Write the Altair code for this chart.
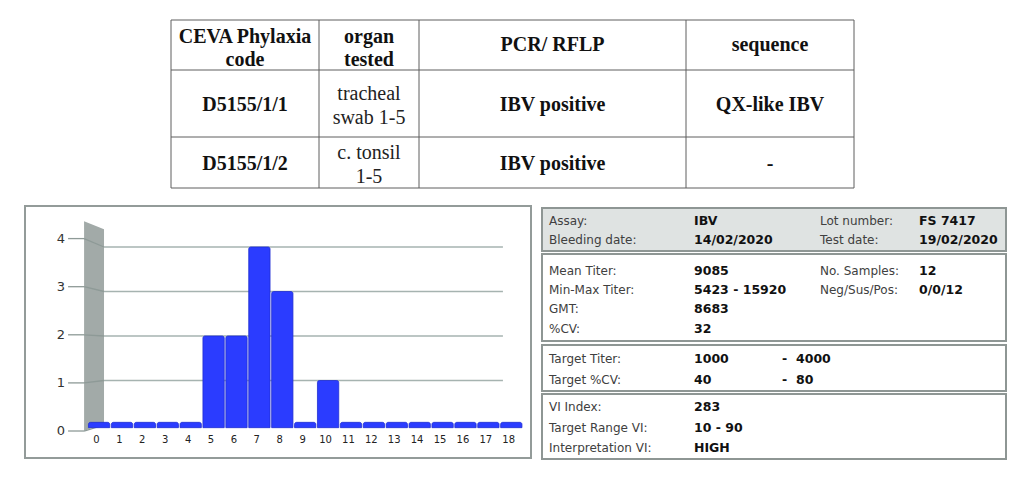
import altair as alt
import pandas as pd

# ---------------- data ----------------
table_header = ["CEVA Phylaxia\ncode", "organ\ntested", "PCR/ RFLP", "sequence"]
sample_codes = ["D5155/1/1", "D5155/1/2"]
organs_tested = ["tracheal\nswab 1-5", "c. tonsil\n1-5"]
pcr_rflp = ["IBV positive", "IBV positive"]
sequence_result = ["QX-like IBV", "-"]

titer_groups = list(range(19))
sample_counts = [0, 0, 0, 0, 0, 2, 2, 4, 3, 0, 1, 0, 0, 0, 0, 0, 0, 0, 0]
count_ticks = [0, 1, 2, 3, 4]

info_labels = ["Assay:", "Bleeding date:", "Mean Titer:", "Min-Max Titer:", "GMT:", "%CV:",
               "Target Titer:", "Target %CV:", "VI Index:", "Target Range VI:", "Interpretation VI:"]
info_values = ["IBV", "14/02/2020", "9085", "5423 - 15920", "8683", "32",
               "1000", "40", "283", "10 - 90", "HIGH"]
side_labels = ["Lot number:", "Test date:", "No. Samples:", "Neg/Sus/Pos:"]
side_values = ["FS 7417", "19/02/2020", "12", "0/0/12"]
target_upper = ["4000", "80"]

# ---------------- layout / style ----------------
SANS = "DejaVu Sans"
SERIF = "Liberation Serif"

TABLE_W, TABLE_H = 981, 187
COL_EDGES = [146, 294, 394, 661, 829]
ROW_EDGES = [12, 62, 129, 180]
LINE_H = 23

BAR_W, BAR_H = 506, 252
STEP, X0, FLOOR, UNIT = 22.9, 71.0, 219.0, 44.5
X_DOM = [-X0 / STEP, (BAR_W - X0) / STEP]
Y_DOM = [-(BAR_H - FLOOR) / UNIT, FLOOR / UNIT]

PANEL_W, PANEL_H = 466, 255
ROW_Y = [15, 34, 65, 84, 103, 123, 153, 174, 201, 222, 242]
COL_X = [8, 153, 279, 378]
RANGE_X = [241, 255]
BOXES = [(2, 45), (48, 135), (139, 185), (188, 253)]

BLUE = "#2b3cff"
GRID = "#a6b3b0"

# ---------------- table ----------------
def cell_y(top, bottom, text, shift):
    n = text.count("\n")
    return (top + bottom) / 2 - n * (LINE_H / 2 - shift)

cells = []
for j, t in enumerate(table_header):
    cells.append(dict(x=(COL_EDGES[j] + COL_EDGES[j + 1]) / 2,
                      y=cell_y(ROW_EDGES[0], ROW_EDGES[1], t, 3.5), text=t, bold=True))
for i in range(len(sample_codes)):
    row = [sample_codes[i], organs_tested[i], pcr_rflp[i], sequence_result[i]]
    for j, t in enumerate(row):
        cells.append(dict(x=(COL_EDGES[j] + COL_EDGES[j + 1]) / 2,
                          y=cell_y(ROW_EDGES[i + 1], ROW_EDGES[i + 2], t, 0.5) + 1,
                          text=t, bold=(j != 1)))
cells_df = pd.DataFrame(cells)

lines = []
for yy in ROW_EDGES:
    lines.append(dict(x=COL_EDGES[0], x2=COL_EDGES[-1], y=yy, y2=yy))
for xx in COL_EDGES:
    lines.append(dict(x=xx, x2=xx, y=ROW_EDGES[0], y2=ROW_EDGES[-1]))
lines_df = pd.DataFrame(lines)

tx = alt.Scale(domain=[0, TABLE_W], nice=False, zero=False)
ty = alt.Scale(domain=[0, TABLE_H], nice=False, zero=False, reverse=True)

t_lines = alt.Chart(lines_df).mark_rule(color="#5e5e5e", strokeWidth=1).encode(
    x=alt.X("x:Q", scale=tx, axis=None), x2="x2:Q",
    y=alt.Y("y:Q", scale=ty, axis=None), y2="y2:Q")
t_bold = alt.Chart(cells_df).transform_filter("datum.bold").mark_text(
    font=SERIF, fontSize=20, fontWeight="bold", lineBreak="\n", lineHeight=LINE_H,
    baseline="middle", align="center", color="#111").encode(
    x=alt.X("x:Q", scale=tx, axis=None), y=alt.Y("y:Q", scale=ty, axis=None), text="text:N")
t_norm = alt.Chart(cells_df).transform_filter("!datum.bold").mark_text(
    font=SERIF, fontSize=20, lineBreak="\n", lineHeight=LINE_H + 1,
    baseline="middle", align="center", color="#222").encode(
    x=alt.X("x:Q", scale=tx, axis=None), y=alt.Y("y:Q", scale=ty, axis=None), text="text:N")
table = alt.layer(t_lines, t_bold, t_norm).properties(width=TABLE_W, height=TABLE_H)

# ---------------- bar chart ----------------
bx = alt.Scale(domain=X_DOM, nice=False, zero=False)
by = alt.Scale(domain=Y_DOM, nice=False, zero=False)
x_axis = alt.Axis(values=titer_groups, title=None, ticks=False, domain=False,
                  grid=False, labelPadding=0, offset=-24, labelFont=SANS,
                  labelFontSize=10, labelColor="#222", labelBaseline="top")

bars_df = pd.DataFrame({"group": titer_groups, "count": sample_counts})

wall_df = pd.DataFrame({"x": [-0.52, 0.35], "top": [4.58, 4.40], "bot": [-0.135, 0.045]})
wall = alt.Chart(wall_df).mark_area(color="#a2aaa8").encode(
    x=alt.X("x:Q", scale=bx, axis=x_axis), y=alt.Y("top:Q", scale=by, axis=None), y2="bot:Q")

tick_df = pd.DataFrame({"v": count_ticks})
tick_df["ty"] = -0.135 + 1.081 * tick_df["v"]

grid = alt.Chart(tick_df).transform_filter("datum.v > 0").transform_calculate(
    xa="0.35", xb="17.77").mark_rule(color=GRID, strokeWidth=1.5).encode(
    x=alt.X("xa:Q", scale=bx, axis=x_axis), x2="xb:Q",
    y=alt.Y("v:Q", scale=by, axis=None))
conn = alt.Chart(tick_df).transform_calculate(xa="-0.52", xb="0.35").mark_rule(
    color="#8e9a97", strokeWidth=1.3).encode(
    x=alt.X("xa:Q", scale=bx, axis=x_axis), x2="xb:Q",
    y=alt.Y("ty:Q", scale=by, axis=None), y2="v:Q")
ticks = alt.Chart(tick_df).transform_calculate(xa="-1.22", xb="-0.52").mark_rule(
    color="#8e9a97", strokeWidth=1.3).encode(
    x=alt.X("xa:Q", scale=bx, axis=x_axis), x2="xb:Q",
    y=alt.Y("ty:Q", scale=by, axis=None))
ylabels = alt.Chart(tick_df).transform_calculate(xa="-1.35").mark_text(
    font=SANS, fontSize=13, align="right", baseline="middle", color="#333").encode(
    x=alt.X("xa:Q", scale=bx, axis=x_axis), y=alt.Y("ty:Q", scale=by, axis=None),
    text="v:Q")

bars = alt.Chart(bars_df).transform_calculate(
    x0="datum.group - 0.33", x1="datum.group + 0.6",
    top="max(datum.count, 0.06)", bot="-0.06").mark_bar(
    color=BLUE, stroke="#1f2ed2", strokeWidth=0.8,
    cornerRadiusTopLeft=2, cornerRadiusTopRight=2).encode(
    x=alt.X("x0:Q", scale=bx, axis=x_axis),
    x2="x1:Q",
    y=alt.Y("top:Q", scale=by, axis=None), y2="bot:Q")

bar_chart = alt.layer(wall, grid, conn, ticks, ylabels, bars).properties(
    width=BAR_W, height=BAR_H,
    view=alt.ViewBackground(stroke="#939b99", strokeWidth=2))

# ---------------- info panel ----------------
px = alt.Scale(domain=[0, PANEL_W], nice=False, zero=False)
py = alt.Scale(domain=[0, PANEL_H], nice=False, zero=False, reverse=True)

box_df = pd.DataFrame({"y": [b[0] for b in BOXES], "y2": [b[1] for b in BOXES],
                       "fill": ["#dfe3e2", "white", "white", "white"]})
box_df["x"] = 1
box_df["x2"] = PANEL_W - 1
boxes = alt.Chart(box_df).mark_rect(stroke="#8e9694", strokeWidth=2).encode(
    x=alt.X("x:Q", scale=px, axis=None), x2="x2:Q",
    y=alt.Y("y:Q", scale=py, axis=None), y2="y2:Q",
    fill=alt.Fill("fill:N", scale=None))

texts = []
for i, (lab, val) in enumerate(zip(info_labels, info_values)):
    texts.append(dict(x=COL_X[0], y=ROW_Y[i], text=lab, bold=False))
    texts.append(dict(x=COL_X[1], y=ROW_Y[i], text=val, bold=True))
for i, (lab, val) in enumerate(zip(side_labels, side_values)):
    texts.append(dict(x=COL_X[2], y=ROW_Y[i], text=lab, bold=False))
    texts.append(dict(x=COL_X[3], y=ROW_Y[i], text=val, bold=True))
for k, up in enumerate(target_upper):
    texts.append(dict(x=RANGE_X[0], y=ROW_Y[6 + k], text="-", bold=True))
    texts.append(dict(x=RANGE_X[1], y=ROW_Y[6 + k], text=up, bold=True))
texts_df = pd.DataFrame(texts)

p_norm = alt.Chart(texts_df).transform_filter("!datum.bold").mark_text(
    font=SANS, fontSize=12, align="left", baseline="middle", color="#404040").encode(
    x=alt.X("x:Q", scale=px, axis=None), y=alt.Y("y:Q", scale=py, axis=None), text="text:N")
p_bold = alt.Chart(texts_df).transform_filter("datum.bold").mark_text(
    font=SANS, fontSize=12.5, fontWeight="bold", align="left", baseline="middle",
    color="#111").encode(
    x=alt.X("x:Q", scale=px, axis=None), y=alt.Y("y:Q", scale=py, axis=None), text="text:N")
panel = alt.layer(boxes, p_norm, p_bold).properties(width=PANEL_W, height=PANEL_H)

bottom = alt.hconcat(bar_chart, panel, spacing=9).resolve_scale(x="independent", y="independent")
chart = alt.vconcat(table, bottom, spacing=10).resolve_scale(
    x="independent", y="independent").properties(
    padding={"left": 16, "top": 0, "right": 0, "bottom": 0}).configure_view(strokeWidth=0)

chart.save("out.html", embed_options={"renderer": "svg", "actions": False})
